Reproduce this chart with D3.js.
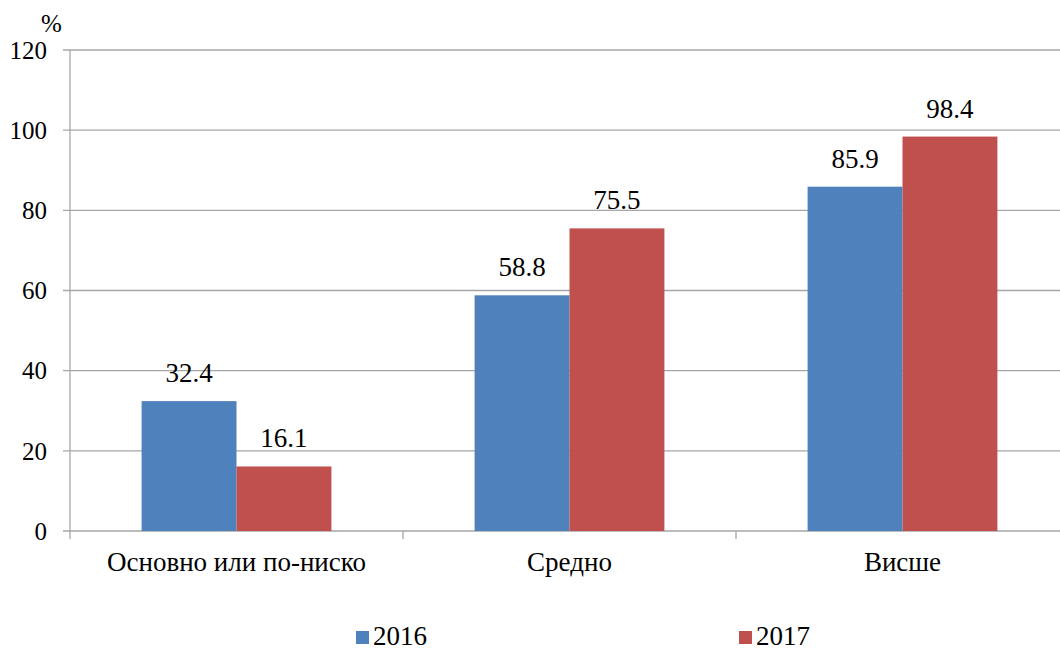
<!DOCTYPE html>
<html>
<head>
<meta charset="utf-8">
<script src="https://cdn.jsdelivr.net/npm/d3@7"></script>
<style>
  body { margin: 0; background: #fff; }
</style>
</head>
<body>
<div id="container"></div>
<script>
const categories = ["Основно или по-ниско", "Средно", "Висше"];
const years = ["2016", "2017"];
const values2016 = [32.4, 58.8, 85.9];
const values2017 = [16.1, 75.5, 98.4];
const yTicks = [0, 20, 40, 60, 80, 100, 120];

const w = 1060;
const h = 651;
const plotLeft = 70, plotRight = 1069, plotTop = 50, plotBottom = 531;
const colors = ["#4F81BD", "#C0504D"];
const fontName = "Liberation Serif";

const svg = d3.select("#container")
              .append("svg")
              .attr("width", w)
              .attr("height", h)
              .attr("font-family", fontName)
              .attr("font-size", 27);

const y = d3.scaleLinear().domain([0, 120]).range([plotBottom, plotTop]);
const x0 = d3.scaleBand().domain(categories).range([plotLeft, plotRight]).padding(0);
const groupW = x0.bandwidth() * 0.57;
const x1 = d3.scaleBand().domain(years)
             .range([(x0.bandwidth() - groupW) / 2, (x0.bandwidth() + groupW) / 2])
             .padding(0);

// gridlines + y ticks
svg.append("g")
   .selectAll("line")
   .data(yTicks)
   .enter()
   .append("line")
   .attr("x1", plotLeft - 7)
   .attr("x2", plotRight)
   .attr("y1", d => y(d))
   .attr("y2", d => y(d))
   .attr("stroke", "#a6a6a6")
   .attr("stroke-width", 1.3);

svg.append("g")
   .selectAll("text")
   .data(yTicks)
   .enter()
   .append("text")
   .attr("x", 47)
   .attr("y", d => y(d))
   .attr("dy", "0.35em")
   .attr("text-anchor", "end")
   .attr("font-size", 25)
   .text(d => d);

svg.append("text")
   .attr("x", 41)
   .attr("y", 32)
   .attr("font-size", 25)
   .text("%");

// y axis line
svg.append("line")
   .attr("x1", plotLeft).attr("x2", plotLeft)
   .attr("y1", plotTop).attr("y2", plotBottom + 8)
   .attr("stroke", "#a6a6a6")
   .attr("stroke-width", 1.3);

// category ticks
svg.append("g")
   .selectAll("line")
   .data(categories)
   .enter()
   .append("line")
   .attr("x1", d => x0(d) + x0.step())
   .attr("x2", d => x0(d) + x0.step())
   .attr("y1", plotBottom)
   .attr("y2", plotBottom + 8)
   .attr("stroke", "#a6a6a6")
   .attr("stroke-width", 1.3);

const rows = categories.map((c, i) => ({ category: c, values: [values2016[i], values2017[i]] }));

const groups = svg.selectAll(".grp")
                  .data(rows)
                  .enter()
                  .append("g")
                  .attr("class", "grp")
                  .attr("transform", d => "translate(" + x0(d.category) + ",0)");

groups.selectAll("rect")
      .data(d => d.values.map((v, j) => ({ year: years[j], value: v, j: j })))
      .enter()
      .append("rect")
      .attr("x", d => x1(d.year))
      .attr("y", d => y(d.value))
      .attr("width", x1.bandwidth())
      .attr("height", d => y(0) - y(d.value))
      .attr("fill", d => colors[d.j]);

groups.selectAll(".lbl")
      .data(d => d.values.map((v, j) => ({ year: years[j], value: v })))
      .enter()
      .append("text")
      .attr("class", "lbl")
      .attr("x", d => x1(d.year) + x1.bandwidth() / 2)
      .attr("y", d => y(d.value) - 19)
      .attr("text-anchor", "middle")
      .text(d => d.value.toFixed(1));

groups.append("text")
      .attr("x", x0.bandwidth() / 2)
      .attr("y", 571)
      .attr("text-anchor", "middle")
      .text(d => d.category);

// legend
const legendX = [356, 739];
const legend = svg.selectAll(".leg")
                  .data(years)
                  .enter()
                  .append("g")
                  .attr("class", "leg");

legend.append("rect")
      .attr("x", (d, i) => legendX[i])
      .attr("y", 631)
      .attr("width", 13)
      .attr("height", 13)
      .attr("fill", (d, i) => colors[i]);

legend.append("text")
      .attr("x", (d, i) => legendX[i] + 17)
      .attr("y", 645)
      .text(d => d);
</script>
</body>
</html>
